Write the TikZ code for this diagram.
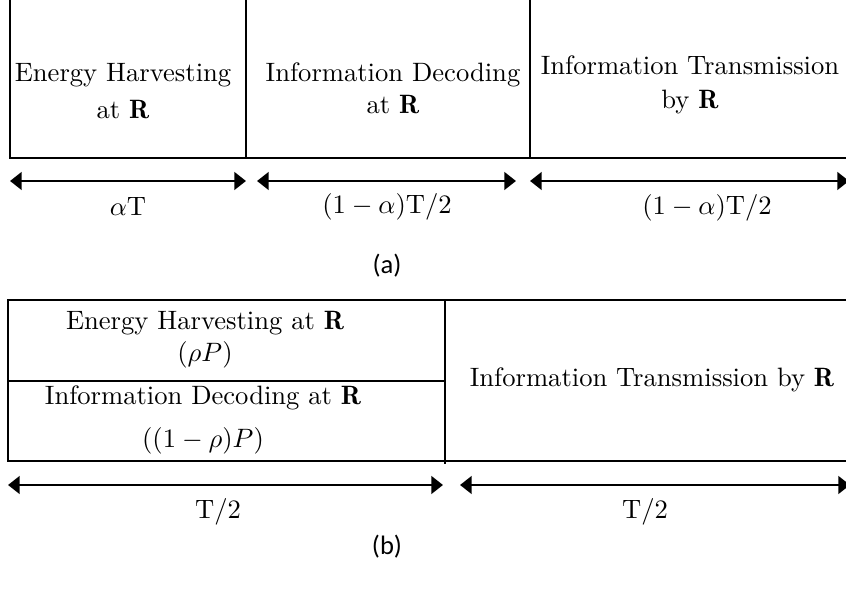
\documentclass[tikz,border=0pt]{standalone}
\usepackage{amsmath}
\usepackage{fontspec}
\newfontfamily\capfont{Carlito}
\usepackage{tikz}
\usetikzlibrary{arrows.meta, positioning}

\begin{document}
\begin{tikzpicture}[
    x=0.376pt, y=-0.376pt,
    frame/.style={line width=0.8pt},
    slot/.style={align=center, inner sep=0pt},
    span/.style={line width=1.1pt, {Triangle[length=4.4pt,width=6.6pt]}-{Triangle[length=4.4pt,width=6.6pt]}},
    caption/.style={font=\capfont, inner sep=0pt}
]
\clip (0,0) rectangle (846,592);

% Frame (a)
\draw[frame] (10,-20) rectangle (900,158);
\draw[frame] (246,-20) -- (246,158);
\draw[frame] (530,-20) -- (530,158);

% Blocks (a)
\node[slot] (harvest) at (123,91) {Energy Harvesting\\[2pt] at $\mathbf{R}$};
\node[slot] (decode) at (393,88) {Information Decoding\\ at $\mathbf{R}$};
\node[slot] (transmit) at (690,85) {Information Transmission\\[1pt] by $\mathbf{R}$};

% Durations (a)
\coordinate (ha1) at (10,181);
\coordinate (ha2) at (246,181);
\coordinate (ha3) at (257,181);
\coordinate (ha4) at (516,181);
\coordinate (ha5) at (530,181);
\coordinate (ha6) at (849,181);
\draw[span] (ha1) -- (ha2);
\draw[span] (ha3) -- (ha4);
\draw[span] (ha5) -- (ha6);
\node (alphaT) at (128,207) {$\alpha$T};
\node (restA) at (387,207) {$(1-\alpha)\mathrm{T}/2$};
\node (restB) at (707,208) {$(1-\alpha)\mathrm{T}/2$};

\node[caption] (capa) at (387,266) {(a)};

% Frame (b)
\draw[frame] (8,300) rectangle (900,461);
\draw[frame] (445,300) -- (445,464);
\draw[frame] (8,381) -- (445,381);

% Blocks (b)
\node[slot] (harvestb) at (205,340) {Energy Harvesting at $\mathbf{R}$\\ $(\rho P)$};
\node[slot] (decodeb) at (203,420) {Information Decoding at $\mathbf{R}$\\[4pt] $((1-\rho)P)$};
\node[slot] (transmitb) at (652,380) {Information Transmission by $\mathbf{R}$};

% Durations (b)
\coordinate (hb1) at (8,485);
\coordinate (hb2) at (443,485);
\coordinate (hb3) at (460,485);
\coordinate (hb4) at (850,485);
\draw[span] (hb1) -- (hb2);
\draw[span] (hb3) -- (hb4);
\node (halfA) at (218,512) {$\mathrm{T}/2$};
\node (halfB) at (645,512) {$\mathrm{T}/2$};

\node[caption] (capb) at (387,547) {(b)};

\end{tikzpicture}
\end{document}
